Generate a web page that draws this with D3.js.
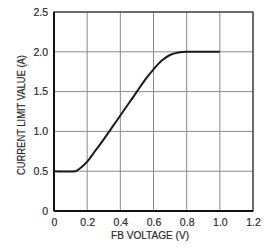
<!DOCTYPE html>
<html>
<head>
<meta charset="utf-8">
<script src="https://cdn.jsdelivr.net/npm/d3@7"></script>
<style>
  body { margin: 0; background: #fff; }
  text { font-family: "Liberation Sans Narrow", "Liberation Sans", Arial, sans-serif; fill: #2a2a2a; }
</style>
</head>
<body>
<div id="chart"></div>
<script>
// FB voltage (V) vs current limit value (A)
let fbVoltage = [0, 0.05, 0.1, 0.13, 0.16, 0.2, 0.25, 0.3, 0.35, 0.4, 0.45, 0.5, 0.55, 0.6, 0.65, 0.7, 0.75, 0.8, 0.9, 1.0];
let currentLimit = [0.5, 0.495, 0.495, 0.5, 0.54, 0.62, 0.76, 0.9, 1.05, 1.2, 1.35, 1.5, 1.65, 1.78, 1.89, 1.96, 1.99, 2.0, 2.0, 2.0];
let xTicks = [0, 0.2, 0.4, 0.6, 0.8, 1.0, 1.2];
let yTicks = [0, 0.5, 1.0, 1.5, 2.0, 2.5];
let xTickLabels = ["0", "0.2", "0.4", "0.6", "0.8", "1.0", "1.2"];
let yTickLabels = ["0", "0.5", "1.0", "1.5", "2.0", "2.5"];

let margin = {top: 12, right: 19, bottom: 40, left: 54};
let width = 272 - margin.left - margin.right;
let height = 251 - margin.top - margin.bottom;

let svg = d3.select("#chart")
            .append("svg")
            .attr("width", 272)
            .attr("height", 251)
            .append("g")
            .attr("transform", "translate(" + margin.left + "," + margin.top + ")");

let x = d3.scaleLinear().domain([0, 1.2]).range([0, width]);
let y = d3.scaleLinear().domain([0, 2.5]).range([height, 0]);

// grid
svg.append("g")
    .selectAll("line")
    .data(xTicks)
    .join("line")
    .attr("x1", d => x(d)).attr("x2", d => x(d))
    .attr("y1", 0).attr("y2", height)
    .attr("stroke", "#8a8a8a").attr("stroke-width", 1);
svg.append("g")
    .selectAll("line")
    .data(yTicks)
    .join("line")
    .attr("x1", 0).attr("x2", width)
    .attr("y1", d => y(d)).attr("y2", d => y(d))
    .attr("stroke", "#8a8a8a").attr("stroke-width", 1);

// frame
svg.append("rect")
    .attr("width", width).attr("height", height)
    .attr("fill", "none").attr("stroke", "#333").attr("stroke-width", 1.2);
svg.append("line")
    .attr("x1", 0).attr("x2", 0).attr("y1", 0).attr("y2", height)
    .attr("stroke", "#111").attr("stroke-width", 2);
svg.append("line")
    .attr("x1", 0).attr("x2", width).attr("y1", height).attr("y2", height)
    .attr("stroke", "#111").attr("stroke-width", 2);

// axes (labels only)
let xAxis = svg.append("g")
    .attr("transform", "translate(0," + height + ")")
    .call(d3.axisBottom(x).tickValues(xTicks).tickSize(0).tickPadding(8).tickFormat((d, i) => xTickLabels[i]));
let yAxis = svg.append("g")
    .call(d3.axisLeft(y).tickValues(yTicks).tickSize(0).tickPadding(6).tickFormat((d, i) => yTickLabels[i]));
[xAxis, yAxis].forEach(a => {
    a.select(".domain").remove();
    a.selectAll("text").attr("font-size", 10.5).style("font-family", "'Liberation Sans Narrow', 'Liberation Sans', sans-serif")
        .attr("fill", "#2a2a2a").attr("stroke", "#2a2a2a").attr("stroke-width", 0.2);
});

// curve
let pts = fbVoltage.map((v, i) => ({v: v, c: currentLimit[i]}));
svg.append("path")
    .datum(pts)
    .attr("fill", "none")
    .attr("stroke", "#1a1a1a")
    .attr("stroke-width", 2)
    .attr("d", d3.line().curve(d3.curveMonotoneX)
        .x(d => x(d.v))
        .y(d => y(d.c)));

// axis titles
svg.append("text")
    .attr("x", 96).attr("y", height + 28)
    .attr("text-anchor", "middle").attr("font-size", 10.5)
    .attr("textLength", 78).attr("lengthAdjust", "spacingAndGlyphs")
    .attr("stroke", "#2a2a2a").attr("stroke-width", 0.2)
    .text("FB VOLTAGE (V)");
svg.append("text")
    .attr("transform", "translate(-29,103) rotate(-90)")
    .attr("text-anchor", "middle").attr("font-size", 10.5)
    .attr("textLength", 120).attr("lengthAdjust", "spacingAndGlyphs")
    .attr("stroke", "#2a2a2a").attr("stroke-width", 0.2)
    .text("CURRENT LIMIT VALUE (A)");
</script>
</body>
</html>
